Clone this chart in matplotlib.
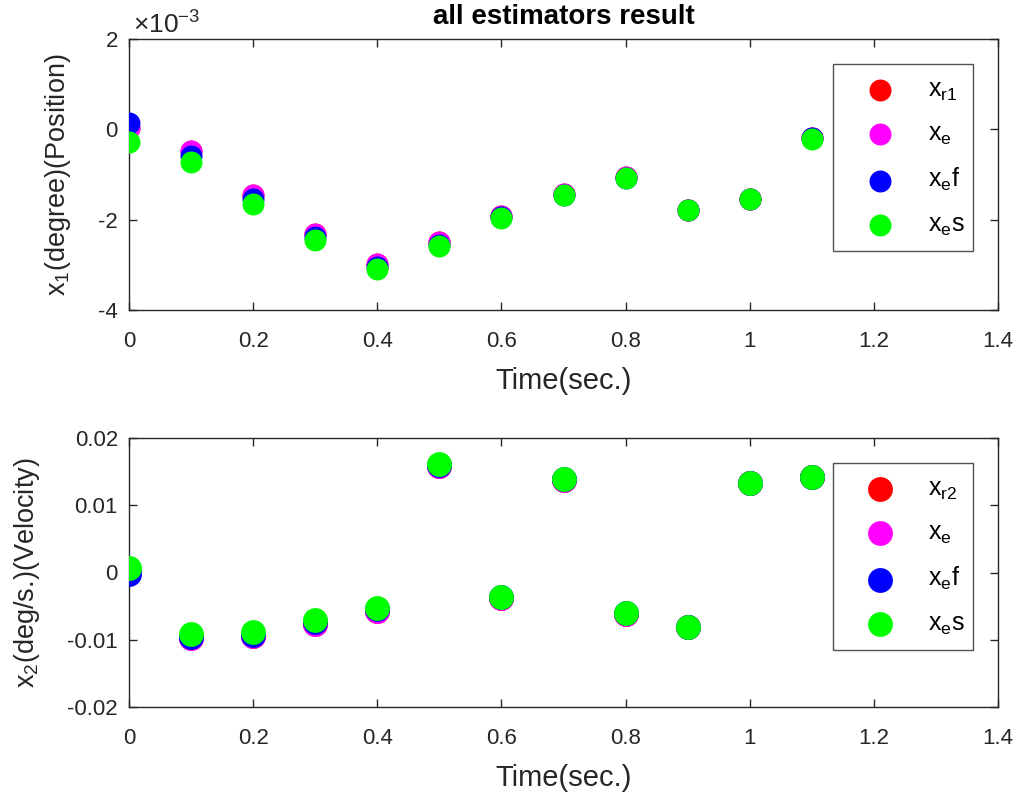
import matplotlib
matplotlib.use("Agg")
import matplotlib.pyplot as plt
from matplotlib.ticker import FuncFormatter, FixedLocator

plt.rcParams['font.family'] = ['Liberation Sans', 'DejaVu Sans']
plt.rcParams['mathtext.fontset'] = 'custom'
plt.rcParams['mathtext.rm'] = 'Liberation Sans'
plt.rcParams['mathtext.it'] = 'Liberation Sans'

t = [0.0, 0.1, 0.2, 0.3, 0.4, 0.5, 0.6, 0.7, 0.8, 0.9, 1.0, 1.1]

# Position (degree)
x1_r1 = [0.00002, -0.00047, -0.00146, -0.00231, -0.00299, -0.00249, -0.00192, -0.00143, -0.00106, -0.00178, -0.00154, -0.00020]
x1_e  = [0.00004, -0.00047, -0.00146, -0.00231, -0.00299, -0.00249, -0.00192, -0.00143, -0.00106, -0.00178, -0.00154, -0.00020]
x1_ef = [0.00015, -0.00058, -0.00154, -0.00238, -0.00305, -0.00255, -0.00195, -0.00145, -0.00107, -0.00179, -0.00155, -0.00020]
x1_es = [-0.00029, -0.00073, -0.00165, -0.00246, -0.00309, -0.00258, -0.00196, -0.00146, -0.00108, -0.00179, -0.00155, -0.00021]

# Velocity (deg/s)
x2_r2 = [0.0001, -0.0098, -0.0095, -0.0076, -0.0057, 0.0158, -0.0038, 0.0138, -0.0061, -0.0081, 0.0133, 0.0142]
x2_e  = [0.0001, -0.0098, -0.0095, -0.0076, -0.0057, 0.0158, -0.0038, 0.0138, -0.0061, -0.0081, 0.0133, 0.0142]
x2_ef = [-0.0002, -0.0096, -0.0093, -0.0074, -0.0055, 0.0160, -0.0037, 0.0139, -0.0060, -0.0081, 0.0133, 0.0142]
x2_es = [0.0006, -0.0092, -0.0089, -0.0071, -0.0053, 0.0161, -0.0036, 0.01386, -0.0060, -0.0081, 0.01335, 0.01425]

colors = ['#ff0000', '#ff00ff', '#0000ff', '#00ff00']
labels1 = [r'$\mathregular{x_{r1}}$', r'$\mathregular{x_e}$', r'$\mathregular{x_e f}$', r'$\mathregular{x_e s}$']
labels2 = [r'$\mathregular{x_{r2}}$', r'$\mathregular{x_e}$', r'$\mathregular{x_e f}$', r'$\mathregular{x_e s}$']

xticks = [0, 0.2, 0.4, 0.6, 0.8, 1, 1.2, 1.4]
xticklabels = ['0', '0.2', '0.4', '0.6', '0.8', '1', '1.2', '1.4']

fig = plt.figure(figsize=(10.18, 7.96), dpi=100)
W, H = 1018, 796
def rect(l, r, top, bot):
    return [l / W, 1 - bot / H, (r - l) / W, (bot - top) / H]

ax1 = fig.add_axes(rect(129, 998, 39, 310))
ax2 = fig.add_axes(rect(129, 998, 438, 707))

spine_c = '#262626'
TFS = 16

def style(ax):
    for s in ax.spines.values():
        s.set_color(spine_c)
        s.set_linewidth(1.0)
    ax.tick_params(direction='in', length=6, width=1.0, colors=spine_c,
                   top=True, right=True, labelsize=TFS, labelcolor='#262626')
    ax.tick_params(axis='x', pad=15)
    ax.tick_params(axis='y', pad=8)
    ax.set_xlim(0, 1.4)
    ax.xaxis.set_major_locator(FixedLocator(xticks))
    ax.set_xticklabels(xticklabels)
    ax.set_xlabel('Time(sec.)', fontsize=21, color='#262626', labelpad=11)

# top
ms1 = 250
for y, c, lab in zip([x1_r1, x1_e, x1_ef, x1_es], colors, labels1):
    ax1.scatter(t, y, s=ms1, c=c, label=lab, linewidths=0, zorder=3)
ax1.set_ylim(-0.004, 0.002)
ax1.yaxis.set_major_locator(FixedLocator([-0.004, -0.002, 0, 0.002]))
ax1.yaxis.set_major_formatter(FuncFormatter(lambda v, p: '%g' % round(v * 1e3, 6)))
style(ax1)
ax1.set_ylabel(r'$\mathregular{x_1}$(degree)(Position)', fontsize=19.5, color='#262626', labelpad=18)
ax1.text(0.005, 1.0, r'$\mathregular{\times 10^{-3}}$', transform=ax1.transAxes,
         fontsize=19, color='#262626', ha='left', va='bottom')
ax1.set_title('all estimators result', fontsize=20, fontweight='bold', pad=11)

# bottom
ms2 = 320
for y, c, lab in zip([x2_r2, x2_e, x2_ef, x2_es], colors, labels2):
    ax2.scatter(t, y, s=ms2, c=c, label=lab, linewidths=0, zorder=3)
ax2.set_ylim(-0.02, 0.02)
ax2.yaxis.set_major_locator(FixedLocator([-0.02, -0.01, 0, 0.01, 0.02]))
ax2.yaxis.set_major_formatter(FuncFormatter(lambda v, p: '%g' % round(v, 6)))
style(ax2)
ax2.set_ylabel(r'$\mathregular{x_2}$(deg/s.)(Velocity)', fontsize=19.5, color='#262626', labelpad=18)

def leg(ax, top_px, bot_px, ax_top, ax_bot):
    h = ax_bot - ax_top
    x0 = (833 - 129) / 869
    x1 = (973 - 129) / 869
    y1 = (ax_bot - top_px) / h
    y0 = (ax_bot - bot_px) / h
    L = ax.legend(loc='upper left', bbox_to_anchor=(x0, y0, x1 - x0, y1 - y0), mode='expand',
                  fontsize=18, frameon=True, fancybox=False, edgecolor='#262626',
                  labelspacing=0.76, handletextpad=0.64, borderpad=0.55, scatterpoints=1,
                  handlelength=2.62, borderaxespad=0)
    L.get_frame().set_linewidth(1.0)
    return L

leg(ax1, 64, 252, 39, 310)
leg(ax2, 463, 651, 438, 707)

fig.savefig('out.png', dpi=100)
